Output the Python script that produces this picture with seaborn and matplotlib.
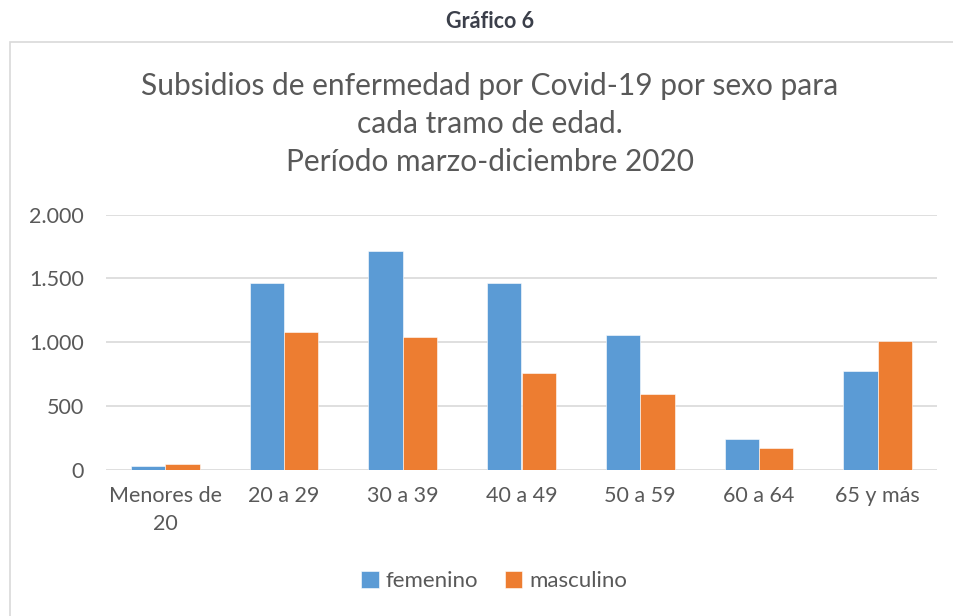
import pandas as pd
import matplotlib.pyplot as plt
import seaborn as sns
from matplotlib.patches import Rectangle
from matplotlib.ticker import FuncFormatter

tramos = ["Menores de\n20", "20 a 29", "30 a 39", "40 a 49", "50 a 59", "60 a 64", "65 y más"]
femenino = [31, 1461, 1712, 1461, 1058, 243, 776]
masculino = [42, 1077, 1040, 756, 596, 172, 1007]

df = pd.DataFrame({
    "tramo": tramos * 2,
    "sexo": ["femenino"] * len(tramos) + ["masculino"] * len(tramos),
    "valor": femenino + masculino,
})

sns.set_style("white")
plt.rcParams["font.family"] = ["Lato", "DejaVu Sans"]
gray = "#595959"

fig = plt.figure(figsize=(9.54, 6.16), dpi=100)
# outer chart frame
fig.patches.append(Rectangle((10 / 954, -0.01), 1.0, 1 - 42 / 616 + 0.01,
                             transform=fig.transFigure, fill=False,
                             edgecolor="#d9d9d9", linewidth=1.2))
fig.text(490 / 954, 1 - 22 / 616, "Gráfico 6", ha="center", va="center",
         fontsize=15.5, fontweight="bold", color="#3b3f4a")

ax = fig.add_axes([106 / 954, 1 - 469.7 / 616, (937 - 106) / 954, (469.7 - 214.7) / 616])
sns.barplot(data=df, x="tramo", y="valor", hue="sexo",
            palette=["#5B9BD5", "#ED7D31"], saturation=1, width=0.58, ax=ax,
            edgecolor="white", linewidth=0.4)

ax.set_ylim(0, 2000)
ax.set_yticks([0, 500, 1000, 1500, 2000])
ax.yaxis.set_major_formatter(FuncFormatter(lambda v, p: f"{int(v):,}".replace(",", ".")))
ax.grid(axis="y", color="#d9d9d9", linewidth=1.2)
ax.set_axisbelow(True)
for s in ax.spines.values():
    s.set_visible(False)
ax.set_xlabel("")
ax.set_ylabel("")
ax.tick_params(axis="both", length=0, labelsize=15.5, colors=gray, pad=12)
ax.tick_params(axis="y", pad=16)
for t in ax.get_xticklabels():
    t.set_linespacing(1.45)

fig.text(490 / 954, 1 - 124 / 616,
         "Subsidios de enfermedad por Covid-19 por sexo para\ncada tramo de edad.\nPeríodo marzo-diciembre 2020",
         ha="center", va="center", fontsize=21.5, color=gray, linespacing=1.45)

handles, labels = ax.get_legend_handles_labels()
ax.legend_.remove()
fig.legend(handles, labels, loc="center", bbox_to_anchor=(494 / 954, 1 - 581 / 616),
           ncol=2, frameon=False, fontsize=16, labelcolor=gray,
           handlelength=0.8, handleheight=0.8, handletextpad=0.3, columnspacing=1.2)

fig.savefig("out.png", dpi=100)
